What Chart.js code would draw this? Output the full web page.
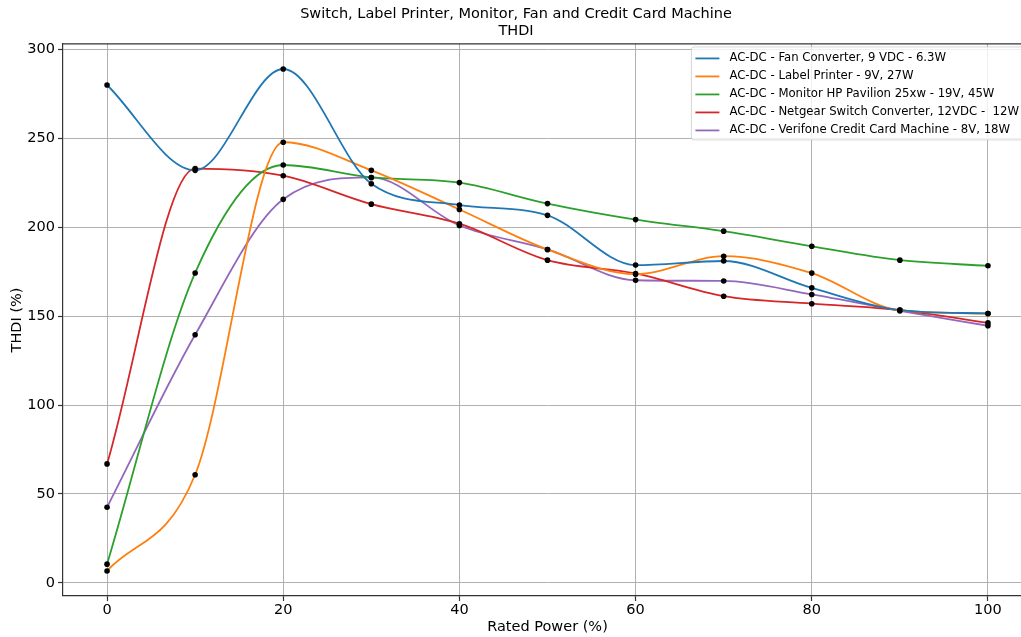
<!DOCTYPE html>
<html>
<head>
<meta charset="utf-8">
<script src="https://cdn.jsdelivr.net/npm/chart.js@4.4.1/dist/chart.umd.min.js"></script>
<style>
  html, body { margin: 0; padding: 0; background: #fff; overflow: hidden; }
  #wrap { width: 1040px; height: 637px; }
</style>
</head>
<body>
<div id="wrap"><canvas id="thdiChart" width="1040" height="637"></canvas></div>
<script>
// Rated power (%) for every measurement
const ratedPower = [0, 10, 20, 30, 40, 50, 60, 70, 80, 90, 100];

// THDI (%) per device
const fanConverter   = [280, 232, 289, 224.5, 212.5, 206.7, 178.7, 181, 165.9, 153.4, 151.5];
const labelPrinter   = [6.7, 60.8, 247.8, 232, 210, 187.5, 173.6, 183.7, 174.2, 153.2, 151.5];
const monitorHP      = [10.5, 174.3, 235, 228, 225.1, 213.3, 204.3, 197.8, 189.3, 181.5, 178.3];
const netgearSwitch  = [66.9, 233, 229, 213, 202, 181.5, 174, 161.2, 157, 153.4, 146.2];
const verifoneCCM    = [42.5, 139.5, 215.7, 228, 201, 187.5, 170.2, 169.8, 162.2, 153, 144.6];

const seriesLabels = [
    'AC-DC - Fan Converter, 9 VDC - 6.3W',
    'AC-DC - Label Printer - 9V, 27W',
    'AC-DC - Monitor HP Pavilion 25xw - 19V, 45W',
    'AC-DC - Netgear Switch Converter, 12VDC -  12W',
    'AC-DC - Verifone Credit Card Machine - 8V, 18W'
];
const seriesColors = ['#1f77b4', '#ff7f0e', '#2ca02c', '#d62728', '#9467bd'];

const xTicks = [0, 20, 40, 60, 80, 100];
const yTicks = [0, 50, 100, 150, 200, 250, 300];

const fontFamily = '"DejaVu Sans", sans-serif';
Chart.defaults.font.family = fontFamily;
Chart.defaults.color = '#000';

const toPoints = values => values.map((v, i) => ({ x: ratedPower[i], y: v }));

// legend drawn inside the plot, top right, like matplotlib
const legendBox = {
    id: 'legendBox',
    afterDraw(chart) {
        const { ctx, chartArea } = chart;
        const sets = chart.data.datasets;
        ctx.save();
        ctx.font = '11.7px ' + fontFamily;
        const textW = Math.max(...sets.map(d => ctx.measureText(d.label).width));
        const right = chartArea.right - 8;
        const left = right - textW - 43;
        const top = chartArea.top + 3;
        const rowH = 18;
        const h = sets.length * rowH + 3;

        ctx.beginPath();
        if (ctx.roundRect) ctx.roundRect(left, top, right - left, h, 3);
        else ctx.rect(left, top, right - left, h);
        ctx.fillStyle = 'rgba(255,255,255,0.8)';
        ctx.fill();
        ctx.strokeStyle = 'rgba(204,204,204,0.8)';
        ctx.lineWidth = 1;
        ctx.stroke();

        ctx.textBaseline = 'middle';
        ctx.textAlign = 'left';
        sets.forEach((d, i) => {
            const y = top + 11.5 + i * rowH;
            ctx.beginPath();
            ctx.moveTo(left + 4, y);
            ctx.lineTo(left + 28, y);
            ctx.strokeStyle = d.borderColor;
            ctx.lineWidth = 1.8;
            ctx.stroke();
            ctx.fillStyle = '#000';
            ctx.fillText(d.label, left + 38, y);
        });
        ctx.restore();
    }
};

// top spine of the axes frame
const frameTop = {
    id: 'frameTop',
    afterDatasetsDraw(chart) {
        const { ctx, chartArea } = chart;
        ctx.save();
        ctx.strokeStyle = '#333';
        ctx.lineWidth = 1.2;
        ctx.beginPath();
        ctx.moveTo(chartArea.left, chartArea.top);
        ctx.lineTo(chartArea.right, chartArea.top);
        ctx.stroke();
        ctx.restore();
    }
};

const datasets = [fanConverter, labelPrinter, monitorHP, netgearSwitch, verifoneCCM].map((vals, i) => ({
    label: seriesLabels[i],
    data: toPoints(vals),
    borderColor: seriesColors[i],
    backgroundColor: seriesColors[i],
    borderWidth: 1.8,
    cubicInterpolationMode: 'monotone',
    fill: false,
    pointRadius: 2.8,
    pointBackgroundColor: '#000',
    pointBorderColor: '#000',
    pointBorderWidth: 0
}));

const ctx = document.getElementById('thdiChart').getContext('2d');
const thdiChart = new Chart(ctx, {
    type: 'line',
    data: { datasets: datasets },
    options: {
        responsive: false,
        animation: false,
        devicePixelRatio: 1,
        layout: { padding: { left: 0, right: 8, top: 0, bottom: 0 } },
        scales: {
            x: {
                type: 'linear',
                min: -5,
                max: 105,
                afterBuildTicks: scale => { scale.ticks = xTicks.map(v => ({ value: v })); },
                afterFit: scale => { scale.height = 41; },
                ticks: { font: { size: 14.5 }, padding: 1, maxRotation: 0 },
                grid: { color: '#b0b0b0', lineWidth: 1, tickLength: 5, tickColor: '#333', tickWidth: 1.2 },
                border: { display: true, color: '#333', width: 1.2 },
                title: { display: true, text: 'Rated Power (%)', font: { size: 14.5 }, padding: { top: 0, bottom: 1 } }
            },
            y: {
                min: -7.4,
                max: 303.1,
                afterBuildTicks: scale => { scale.ticks = yTicks.map(v => ({ value: v })); },
                afterFit: scale => { scale.width = 63; },
                ticks: { font: { size: 14.5 }, padding: 3 },
                grid: { color: '#b0b0b0', lineWidth: 1, tickLength: 5, tickColor: '#333', tickWidth: 1.2 },
                border: { display: true, color: '#333', width: 1.2 },
                title: { display: true, text: 'THDI (%)', font: { size: 14.5 }, padding: { top: 9, bottom: 0 } }
            }
        },
        plugins: {
            title: {
                display: true,
                text: ['Switch, Label Printer, Monitor, Fan and Credit Card Machine', 'THDI'],
                font: { size: 14.5, weight: 'normal', lineHeight: 1.17 },
                color: '#000',
                padding: { top: 6, bottom: 4 }
            },
            legend: { display: false },
            tooltip: { enabled: false }
        }
    },
    plugins: [legendBox, frameTop]
});
</script>
</body>
</html>
